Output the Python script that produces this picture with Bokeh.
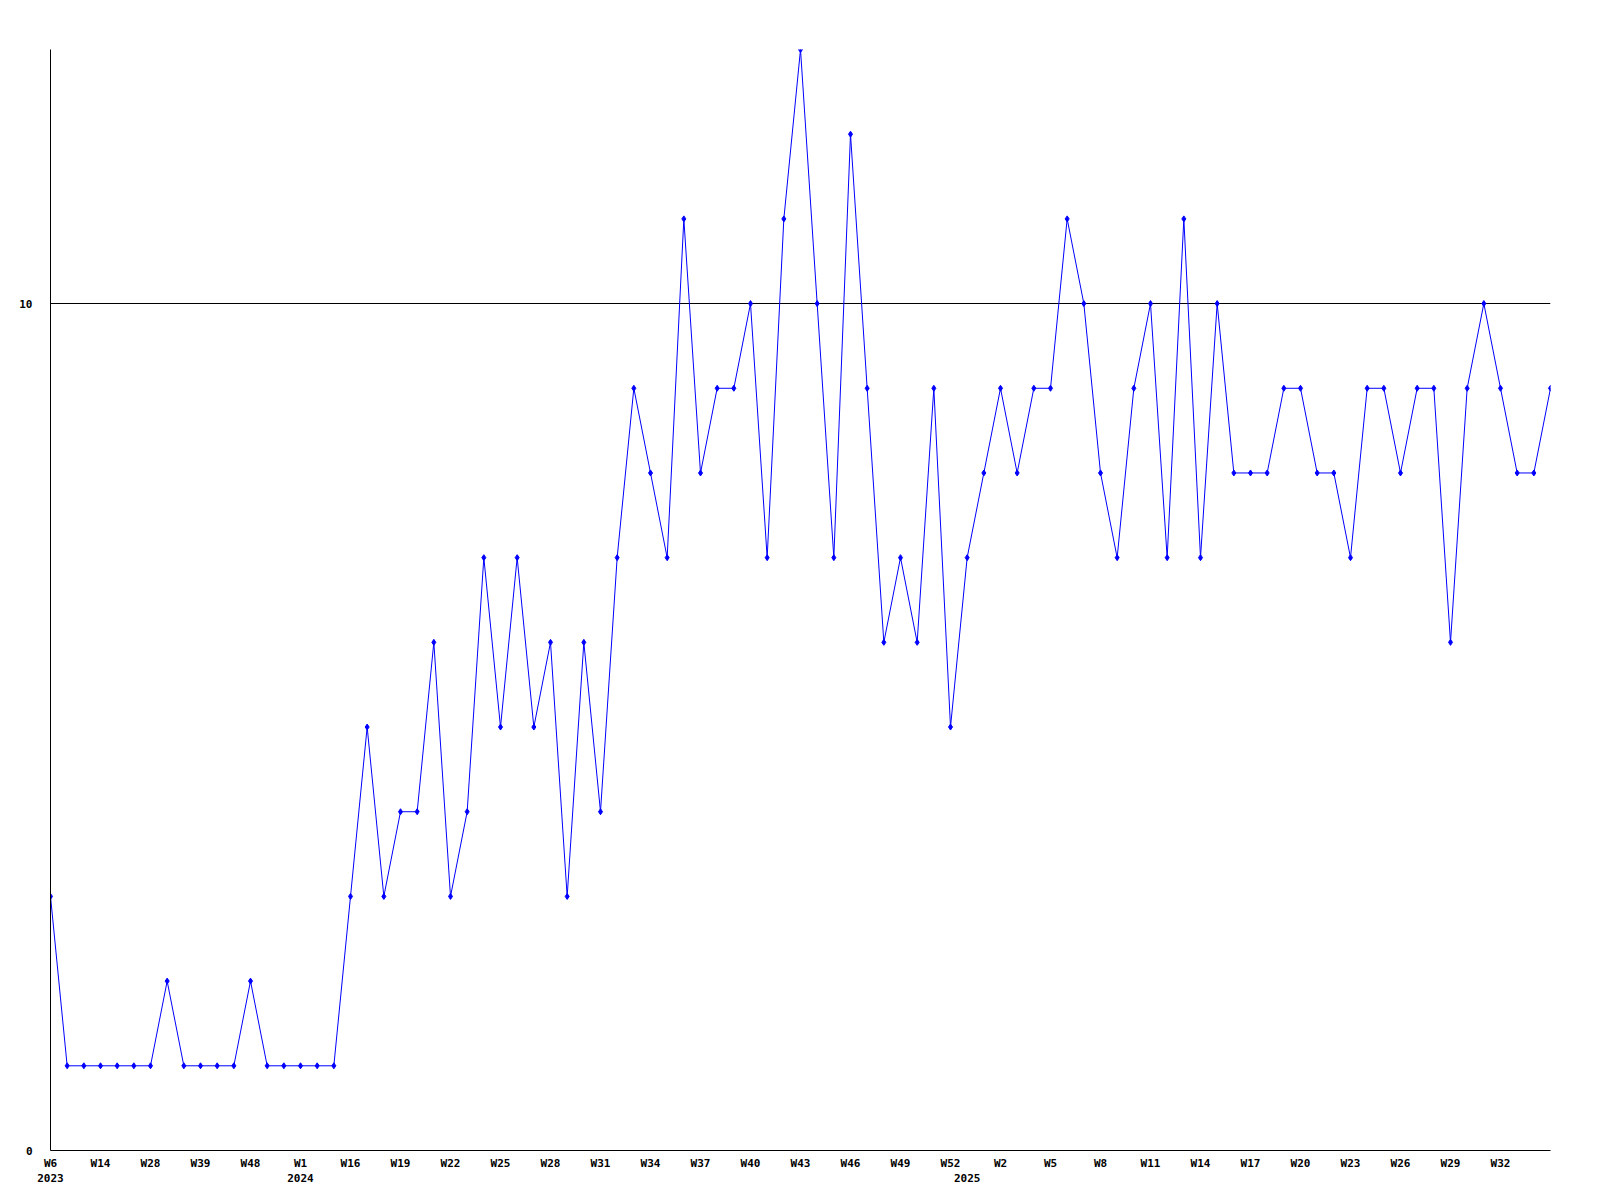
from bokeh.plotting import figure
from bokeh.models import FixedTicker, Range1d
from bokeh.embed import file_html
from bokeh.resources import INLINE

# Weekly counts, one value per reported week (index order)
values = [3, 1, 1, 1, 1, 1, 1, 2, 1, 1, 1, 1, 2, 1, 1,
          1, 1, 1, 3, 5, 3, 4, 4, 6, 3, 4, 7, 5, 7, 5,
          6, 3, 6, 4, 7, 9, 8, 7, 11, 8, 9, 9, 10, 7, 11,
          13, 10, 7, 12, 9, 6, 7, 6, 9, 5, 7, 8, 9, 8, 9,
          9, 11, 10, 8, 7, 9, 10, 7, 11, 7, 10, 8, 8, 8, 9,
          9, 8, 8, 7, 9, 9, 8, 9, 9, 6, 9, 10, 9, 8, 8, 9]

# Tick positions (point index) and their labels
tick_idx = [0, 3, 6, 9, 12, 15, 18, 21, 24, 27, 30, 33, 36, 39, 42,
            45, 48, 51, 54, 55, 57, 60, 63, 66, 69, 72, 75, 78, 81, 84, 87]
tick_labels = ["W6\n2023", "W14", "W28", "W39", "W48", "W1\n2024", "W16", "W19",
               "W22", "W25", "W28", "W31", "W34", "W37", "W40", "W43", "W46",
               "W49", "W52", "\n2025", "W2", "W5", "W8", "W11", "W14", "W17",
               "W20", "W23", "W26", "W29", "W32"]

y_ticks = [0, 10]

xs = list(range(len(values)))

p = figure(frame_width=1500, frame_height=1101, output_backend="svg",
           toolbar_location=None, x_range=Range1d(0, len(values) - 1),
           y_range=Range1d(0, 13), min_border_left=50, min_border_top=49,
           min_border_right=30, min_border_bottom=35)
p.outline_line_color = None
p.background_fill_color = "white"
p.border_fill_color = "white"

p.line(xs, values, line_color="#0000ff", line_width=1)
p.scatter(xs, values, marker="diamond", size=6, fill_color="#0000ff",
          line_color="#0000ff")

p.xaxis.ticker = FixedTicker(ticks=tick_idx)
p.xaxis.major_label_overrides = {i: l for i, l in zip(tick_idx, tick_labels)}
p.yaxis.ticker = FixedTicker(ticks=y_ticks)

for ax in (p.xaxis, p.yaxis):
    ax.major_tick_line_color = None
    ax.minor_tick_line_color = None
    ax.axis_line_color = "black"
    ax.axis_line_width = 1
    ax.major_label_text_font = "DejaVu Sans Mono"
    ax.major_label_text_font_style = "bold"
    ax.major_label_text_font_size = "11px"
    ax.major_label_text_color = "black"
p.xaxis.major_label_standoff = 0
p.yaxis.major_label_standoff = 12

p.xgrid.grid_line_color = None
p.ygrid.ticker = FixedTicker(ticks=[10])
p.ygrid.grid_line_color = "black"
p.ygrid.grid_line_alpha = 1.0

open("out.html", "w").write(file_html(p, INLINE))
